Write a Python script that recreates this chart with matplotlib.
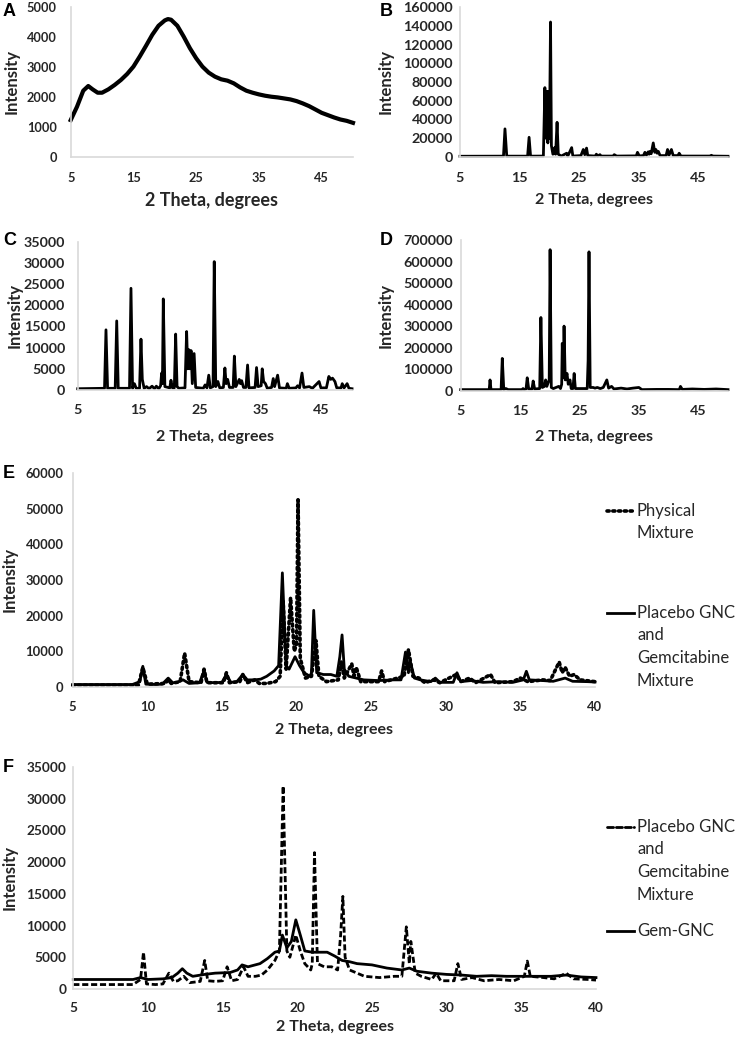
import matplotlib
matplotlib.use("Agg")
import matplotlib.pyplot as plt
from matplotlib.lines import Line2D

# ---------------- data ----------------
A_x = [5, 6, 7, 7.8, 8.5, 9.3, 10, 11, 12, 13, 14, 15, 16, 17, 18, 19, 20, 20.5, 21, 22,
       23, 24, 25, 26, 27, 28, 29, 30, 31, 32, 33, 34, 35, 36, 37, 38, 39, 40, 41, 42,
       43, 44, 45, 46, 47, 48, 49, 50]
A_y = [1228, 1674, 2210, 2366, 2254, 2143, 2143, 2254, 2400, 2567, 2768, 3013, 3348, 3705,
       4073, 4375, 4553, 4598, 4576, 4375, 4018, 3627, 3292, 3013, 2812, 2678, 2589, 2544,
       2455, 2321, 2210, 2143, 2087, 2042, 2009, 1986, 1953, 1920, 1864, 1786, 1696, 1585,
       1473, 1395, 1317, 1250, 1205, 1138]

B_x = [5, 12.3, 12.55, 12.85, 16.35, 16.6, 16.85, 19.0, 19.25, 19.45, 19.6, 19.75, 19.9,
       20.02, 20.2, 20.35, 20.6, 20.9, 21.05, 21.3, 21.5, 22.0, 22.9, 23.1, 23.75, 23.95,
       25.3, 25.7, 25.95, 26.25, 26.45, 27.7, 27.9, 28.1, 28.5, 28.7, 30.7, 30.9, 31.3,
       34.6, 34.8, 35.1, 35.8, 36.05, 36.3, 36.6, 36.75, 36.9, 37.1, 37.45, 37.7, 37.9,
       38.1, 38.3, 38.6, 39.6, 39.85, 40.1, 40.5, 40.8, 41.6, 41.8, 42.1, 47.0, 47.2,
       47.5, 50]
B_y = [800, 900, 30000, 900, 900, 21000, 900, 1000, 74000, 20000, 70000, 15000, 70000,
       20000, 144000, 12000, 3000, 10000, 3000, 37000, 3000, 1000, 4000, 1000, 10000, 1000,
       1500, 8000, 2500, 9500, 1500, 1000, 3000, 1000, 2500, 1000, 1000, 2500, 1000,
       1200, 5000, 1200, 1500, 5000, 2000, 5500, 3000, 6000, 3500, 15000, 5000, 8000,
       4000, 6000, 1500, 1500, 8000, 2000, 8000, 1500, 1500, 4000, 1000, 1000, 1800,
       1000, 800]

C_x = [5, 9.4, 9.64, 9.9, 11.15, 11.4, 11.65, 13.5, 13.74, 14.0, 14.3, 14.6, 15.15, 15.38,
       15.6, 15.9, 16.3, 16.7, 17.2, 17.6, 17.9, 18.3, 18.6, 18.77, 18.9, 19.04, 19.3,
       20.1, 20.3, 20.55, 20.85, 21.07, 21.3, 21.6, 22.6, 22.87, 23.05, 23.25, 23.4, 23.6,
       23.8, 24.1, 24.35, 25.6, 25.9, 26.2, 26.5, 26.75, 27.2, 27.4, 27.65, 28.0, 28.3,
       28.9, 29.15, 29.35, 29.6, 29.9, 30.5, 30.7, 30.95, 31.5, 31.7, 31.9, 32.2, 32.6,
       32.87, 33.1, 34.1, 34.34, 34.6, 35.1, 35.27, 35.5, 35.8, 36.1, 36.8, 37.08, 37.3,
       37.8, 38.1, 39.2, 39.4, 39.7, 40.8, 41.07, 41.4, 41.8, 42.1, 43.0, 43.5, 44.6, 44.9,
       45.8, 46.2, 46.5, 46.8, 47.2, 47.5, 48.2, 48.4, 48.7, 49.2, 49.5, 50]
C_y = [300, 400, 14200, 400, 400, 16300, 400, 400, 24000, 400, 1500, 400, 400, 12000,
       2500, 400, 800, 300, 900, 300, 900, 300, 1000, 4000, 1500, 21500, 800,
       500, 2300, 500, 500, 13200, 800, 400, 500, 13800, 5000, 9500, 5000, 9300,
       1500, 8600, 600, 400, 1200, 500, 3500, 500, 800, 30300, 800, 2000, 500,
       600, 5200, 1500, 2500, 600, 600, 8000, 800, 2500, 1500, 2200, 600, 600,
       5900, 500, 600, 5300, 800, 1000, 5000, 2000, 1500, 400, 600, 2700, 800,
       3500, 500, 400, 1500, 400, 500, 1000, 500, 4000, 600, 800, 400, 2000, 500,
       500, 3200, 2500, 2800, 2000, 500, 500, 1500, 500, 1500, 400, 300]

D_x = [5, 9.8, 9.94, 10.1, 11.8, 12.0, 12.25, 12.6, 13.0, 15.3, 15.5, 15.7, 16.0, 16.2,
       16.45, 17.0, 17.2, 17.45, 18.3, 18.5, 18.75, 19.1, 19.3, 19.5, 19.9, 20.05, 20.25,
       20.6, 21.5, 21.8, 22.0, 22.1, 22.25, 22.4, 22.6, 22.9, 23.1, 23.4, 23.6, 23.9,
       24.1, 24.3, 26.3, 26.45, 26.6, 26.8, 27.3, 27.6, 28.0, 28.5, 29.0, 29.6, 29.9,
       30.4, 30.8, 32.0, 33.0, 34.0, 35.0, 35.5, 38.0, 40.0, 41.8, 42.0, 42.3, 44.0,
       46.0, 48.0, 50]
D_y = [5000, 5000, 50000, 5000, 5000, 150000, 5000, 10000, 5000, 5000, 10000, 5000, 8000,
       60000, 8000, 8000, 45000, 8000, 10000, 340000, 15000, 20000, 50000, 20000, 50000,
       655000, 15000, 10000, 20000, 10000, 30000, 220000, 60000, 300000, 50000, 80000,
       30000, 50000, 10000, 10000, 80000, 10000, 10000, 140000, 645000, 15000, 15000,
       12000, 15000, 10000, 15000, 50000, 12000, 20000, 8000, 12000, 8000, 12000, 15000,
       5000, 6000, 6000, 5000, 20000, 6000, 8000, 6000, 8000, 5000]

# Physical mixture (panel E, dotted)
PM_x = [5, 9.4, 9.7, 10.0, 11.2, 11.4, 11.6, 12.2, 12.5, 12.8, 13.6, 13.8, 14.0, 15.1,
        15.3, 15.5, 16.2, 16.4, 16.7, 17.2, 17.5, 18.0, 18.6, 18.9, 19.1, 19.3, 19.6,
        19.85, 20.0, 20.1, 20.25, 20.6, 21.0, 21.3, 21.5, 22.0, 22.8, 23.0, 23.2, 23.7,
        23.85, 24.0, 24.3, 25.5, 25.7, 25.9, 27.2, 27.5, 27.8, 28.2, 28.6, 29.2, 29.6,
        30.7, 31.0, 31.6, 32.0, 33.0, 33.3, 34.5, 35.0, 35.5, 36.5, 37.0, 37.6, 37.8,
        38.0, 38.3, 38.6, 39.0, 40]
PM_y = [500, 500, 5500, 800, 1000, 2000, 1000, 1500, 9500, 1500, 1200, 5000, 1200, 1200,
        4000, 1200, 1500, 3500, 1200, 2000, 1000, 1000, 1500, 3000, 24000, 5000, 25000,
        10000, 12000, 52500, 8000, 2500, 3000, 13000, 3000, 1500, 2000, 7000, 2500, 6500,
        3000, 5500, 1500, 1500, 4500, 1500, 3000, 10500, 3000, 2500, 1200, 2000, 1200,
        3500, 1500, 2500, 1200, 3500, 1200, 1500, 2500, 1500, 2000, 1800, 7000, 4000,
        5500, 3000, 3500, 2000, 1500]

# Placebo GNC and Gemcitabine Mixture (E solid, F dashed)
PG_x = [5, 9.0, 9.5, 9.7, 9.9, 10.5, 11.0, 11.4, 11.7, 12.0, 12.4, 12.8, 13.5, 13.8, 14.0,
        14.5, 15.0, 15.3, 15.6, 16.0, 16.4, 16.7, 17.2, 17.6, 18.0, 18.5, 18.8, 19.05,
        19.3, 19.5, 19.9, 20.2, 20.5, 20.9, 21.0, 21.15, 21.35, 21.8, 22.3, 22.7, 22.9,
        23.05, 23.2, 23.5, 24.0, 24.5, 25.5, 26.5, 27.0, 27.3, 27.5, 27.6, 27.9, 28.3,
        29.0, 29.3, 29.6, 30.5, 30.75, 31.0, 31.7, 32.5, 33.5, 34.5, 35.2, 35.4, 35.6,
        36.5, 37.2, 38.0, 38.5, 39.5, 40]
PG_y = [700, 700, 1500, 5800, 800, 700, 800, 2500, 1200, 1300, 2000, 1000, 1200, 4500, 1300,
        1200, 1300, 3500, 1300, 1500, 3500, 2000, 2000, 2200, 3000, 4500, 6000, 32000,
        6000, 5000, 8500, 6000, 4000, 3000, 4000, 21500, 4000, 3500, 3500, 3000, 8500,
        14600, 5000, 3000, 2500, 2000, 1800, 2000, 2000, 9800, 4000, 7500, 2500, 2000,
        1500, 2500, 1300, 1300, 4000, 1500, 1800, 1300, 1500, 1300, 2000, 4400, 2000,
        1800, 1600, 2500, 1600, 1500, 1400]

# Gem-GNC (F solid)
GG_x = [5, 9.0, 9.5, 10.0, 11.0, 11.6, 12.0, 12.3, 12.6, 13.0, 13.8, 14.5, 15.5, 16.0,
        16.3, 16.7, 17.5, 18.0, 18.5, 18.8, 19.0, 19.3, 19.6, 19.9, 20.2, 20.5, 21.0,
        21.5, 22.0, 22.5, 23.0, 23.5, 24.0, 25.0, 26.0, 27.0, 27.5, 28.0, 29.0, 30.0,
        31.0, 32.0, 33.0, 34.0, 35.0, 36.0, 37.0, 38.0, 39.0, 40.0]
GG_y = [1500, 1500, 1800, 1500, 1600, 1800, 2500, 3200, 2500, 2000, 2300, 2500, 2600, 3000,
        3800, 3500, 4000, 4800, 5800, 6000, 8500, 6500, 7500, 10900, 8500, 6000, 5800,
        5800, 5800, 5200, 4500, 4300, 4000, 3800, 3300, 3000, 3300, 2800, 2500, 2300,
        2200, 2000, 2100, 2000, 2000, 2000, 2000, 2200, 1900, 1800]

xticks_wide = [5, 15, 25, 35, 45]
xticks_ef = [5, 10, 15, 20, 25, 30, 35, 40]
leg_E = ["Physical\nMixture", "Placebo GNC\nand\nGemcitabine\nMixture"]
leg_F = ["Placebo GNC\nand\nGemcitabine\nMixture", "Gem-GNC"]

# ---------------- layout ----------------
W, H = 740, 1037
fig = plt.figure(figsize=(W / 100, H / 100), dpi=100)
FONT = "Lato"
SPINE = "#d9d9d9"
TXT = "#262626"


def ax_at(l, r, t, b):
    return fig.add_axes([l / W, 1 - b / H, (r - l) / W, (b - t) / H])


def style(ax, xlim, ylim, xticks, ystep, xpad, ypad, fs):
    ax.set_xlim(*xlim)
    ax.set_ylim(*ylim)
    ax.set_xticks(xticks)
    ax.set_yticks(range(ylim[0], ylim[1] + 1, ystep))
    for s in ("top", "right"):
        ax.spines[s].set_visible(False)
    for s in ("left", "bottom"):
        ax.spines[s].set_color(SPINE)
        ax.spines[s].set_linewidth(1.2)
    ax.tick_params(axis="x", length=0, pad=xpad, labelsize=fs, colors=TXT)
    ax.tick_params(axis="y", length=0, pad=ypad, labelsize=fs, colors=TXT)
    for lab in ax.get_xticklabels() + ax.get_yticklabels():
        lab.set_fontfamily(FONT)
        lab.set_fontweight("bold")
    ax.set_facecolor("none")


def ftext(x, y, s, **kw):
    fig.text(x / W, 1 - y / H, s, **kw)


def labels(l, r, t, b, ylx, xly, xfs=11.5, yfs=12):
    ftext((l + r) / 2, xly, "2 Theta, degrees", ha="center", va="center",
          fontsize=xfs, fontweight="bold", family=FONT, color=TXT)
    ftext(ylx, (t + b) / 2, "Intensity", ha="center", va="center", rotation=90,
          fontsize=yfs, fontweight="bold", family=FONT, color=TXT)


def letter(x, y, s):
    ftext(x, y, s, ha="left", va="center", fontsize=13, fontweight="bold",
          family="Liberation Sans", color="black")


# Panel A
box = (70.7, 353, 7, 157)
ax = ax_at(*box)
ax.plot(A_x, A_y, color="black", lw=3.0, solid_joinstyle="round", clip_on=False)
style(ax, (5, 50), (0, 5000), xticks_wide, 1000, 11, 10, 9.2)
labels(*box, 12, 200, xfs=13, yfs=12)
letter(3, 12, "A")

# Panel B
box = (460, 728, 7, 157)
ax = ax_at(*box)
ax.plot(B_x, B_y, color="black", lw=2.0, clip_on=False)
style(ax, (5, 50), (0, 160000), xticks_wide, 20000, 11, 5, 10.3)
labels(*box, 386, 200)
letter(380, 11, "B")

# Panel C
box = (77.7, 352, 241.7, 390)
ax = ax_at(*box)
ax.plot(C_x, C_y, color="black", lw=2.0, clip_on=False)
style(ax, (5, 50), (0, 35000), xticks_wide, 5000, 10, 9, 10.3)
labels(*box, 15, 437)
letter(3, 241, "C")

# Panel D
box = (460.7, 728, 240, 390.7)
ax = ax_at(*box)
ax.plot(D_x, D_y, color="black", lw=2.0, clip_on=False)
style(ax, (5, 50), (0, 700000), xticks_wide, 100000, 10, 5.5, 10.3)
labels(*box, 386, 437)
letter(380, 241, "D")

# Panel E
box = (72.7, 595, 473, 687)
ax = ax_at(*box)
ax.plot(PG_x, PG_y, color="black", lw=2.0, clip_on=False)
ax.plot(PM_x, PM_y, color="black", lw=2.6, linestyle=(0, (0.6, 1.0)),
        dash_capstyle="round", clip_on=False)
style(ax, (5, 40), (0, 60000), xticks_ef, 10000, 10, 6.5, 9.4)
labels(*box, 10, 730)
letter(3, 474, "E")

# Panel F
box = (73.3, 596, 767, 989)
ax = ax_at(*box)
ax.plot(GG_x, GG_y, color="black", lw=2.0, clip_on=False)
ax.plot(PG_x, PG_y, color="black", lw=2.0, linestyle=(0, (2.2, 1.0)), clip_on=False)
style(ax, (5, 40), (0, 35000), xticks_ef, 5000, 9, 5, 9.8)
labels(*box, 10, 1027)
letter(3, 768, "F")


# legends (drawn manually, Excel style with handle at the first text line)
def legend_entry(y, text, ls, lw):
    fig.add_artist(Line2D([607 / W, 634 / W], [1 - y / H, 1 - y / H], color="black",
                          lw=lw, linestyle=ls, dash_capstyle="round"))
    for i, line in enumerate(text.split("\n")):
        ftext(637, y + i * 22.5, line, ha="left", va="center", fontsize=12,
              family=FONT, color=TXT)


legend_entry(511, leg_E[0], (0, (0.6, 1.0)), 2.6)
legend_entry(613, leg_E[1], "-", 2.0)
legend_entry(827, leg_F[0], (0, (2.2, 1.0)), 2.0)
legend_entry(931, leg_F[1], "-", 2.0)

fig.savefig("out.png", dpi=100, facecolor="white")
